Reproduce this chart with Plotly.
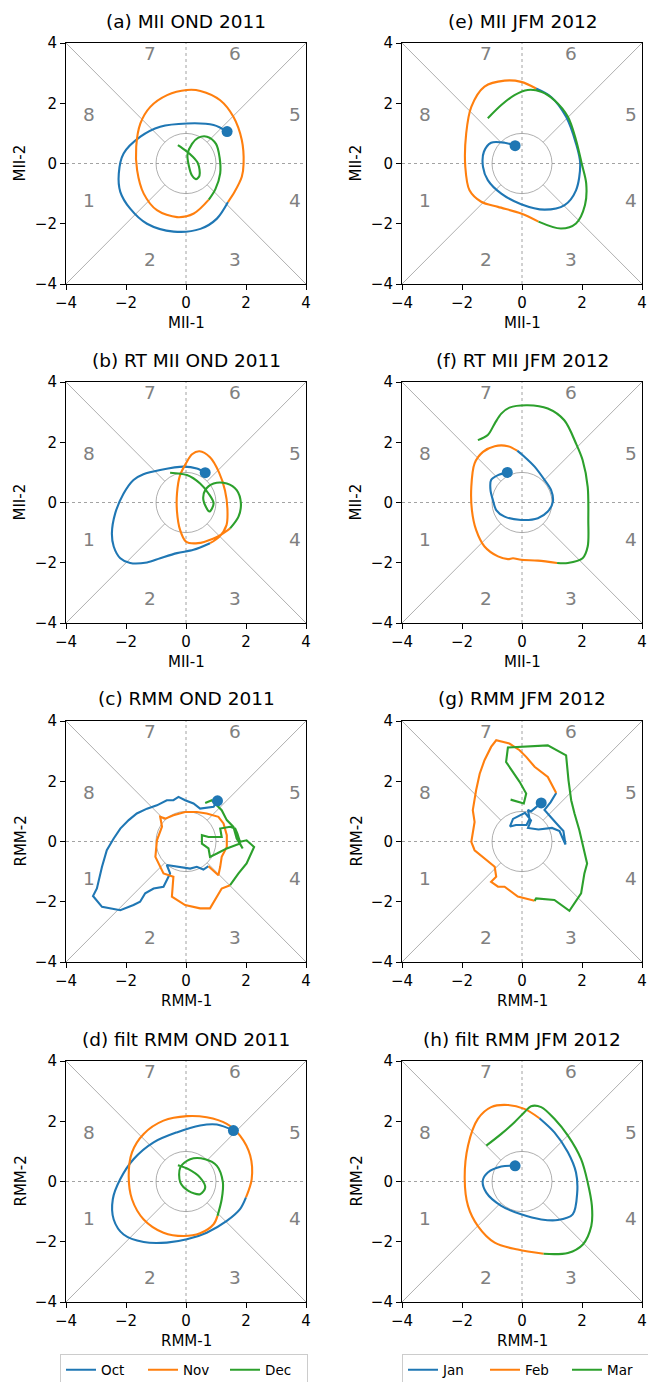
import plotly.graph_objects as go

W, H = 648, 1382
FONT = "DejaVu Sans"
BLUE, ORANGE, GREEN = "#1f77b4", "#ff7f0e", "#2ca02c"

# ---- trajectories (component-1, component-2) per month ----
# (a) MII OND 2011
mii_ond_oct = [(1.37, 1.06), (0.92, 1.28), (0.03, 1.33), (-0.86, 1.22), (-1.52, 0.89), (-2.08, 0.33),
               (-2.24, -0.33), (-2.19, -0.94), (-1.86, -1.5), (-1.3, -2.0), (-0.41, -2.26), (0.48, -2.17),
               (1.03, -1.83), (1.4, -1.28)]
mii_ond_nov = [(1.4, -1.28), (1.62, -0.94), (1.86, -0.44), (1.92, 0.0), (1.86, 0.78), (1.58, 1.55),
               (1.14, 2.1), (0.48, 2.41), (0.03, 2.44), (-0.63, 2.27), (-1.19, 1.88), (-1.52, 1.33),
               (-1.66, 0.55), (-1.63, -0.22), (-1.41, -1.0), (-0.97, -1.55), (-0.3, -1.78), (0.26, -1.66),
               (0.76, -1.2)]
mii_ond_dec = [(0.76, -1.2), (0.98, -0.85), (1.14, -0.33), (1.12, 0.2), (1.0, 0.65), (0.7, 0.89),
               (0.4, 0.85), (0.2, 0.65), (0.05, 0.3), (0.1, -0.1), (0.2, -0.4), (0.33, -0.52),
               (0.45, -0.4), (0.4, 0.0), (0.2, 0.25), (0.0, 0.42), (-0.27, 0.61)]

# (e) MII JFM 2012
mii_jfm_jan = [(-0.23, 0.59), (-0.58, 0.69), (-1.03, 0.69), (-1.27, 0.39), (-1.3, -0.11), (-1.14, -0.55),
               (-0.69, -1.0), (-0.03, -1.35), (0.75, -1.53), (1.42, -1.38), (1.8, -0.89), (1.94, 0.0),
               (1.8, 0.66), (1.47, 1.55), (0.97, 2.21), (0.47, 2.49)]
mii_jfm_feb = [(0.47, 2.49), (-0.03, 2.71), (-0.58, 2.75), (-1.25, 2.55), (-1.69, 1.88), (-1.86, 1.0),
               (-1.89, -0.11), (-1.75, -0.89), (-1.36, -1.27), (-0.8, -1.44), (-0.03, -1.66), (0.55, -1.93)]
mii_jfm_mar = [(0.55, -1.93), (1.3, -2.16), (1.8, -1.99), (2.1, -1.38), (2.14, -0.66), (1.99, 0.0),
               (1.8, 0.78), (1.53, 1.55), (1.08, 2.1), (0.64, 2.38), (0.19, 2.44), (-0.25, 2.27),
               (-0.69, 1.94), (-1.14, 1.5)]

# (b) RT MII OND 2011
rtmii_ond_oct = [(0.64, 0.99), (0.36, 1.13), (-0.08, 1.19), (-0.86, 1.08), (-1.42, 0.94), (-1.75, 0.75),
                 (-2.08, 0.3), (-2.36, -0.36), (-2.47, -1.02), (-2.41, -1.46), (-2.19, -1.85), (-1.86, -2.01),
                 (-1.3, -1.99), (-0.86, -1.85), (-0.3, -1.68), (0.25, -1.57), (0.8, -1.35)]
rtmii_ond_nov = [(0.8, -1.35), (1.1, -1.15), (1.35, -0.75), (1.38, -0.2), (1.3, 0.4), (1.1, 1.0),
                 (0.8, 1.5), (0.45, 1.7), (0.2, 1.6), (0.0, 1.3), (-0.2, 0.9), (-0.3, 0.3), (-0.3, -0.3),
                 (-0.2, -0.9), (0.0, -1.3), (0.4, -1.35), (0.9, -1.2), (1.2, -1.05), (1.47, -0.86)]
rtmii_ond_dec = [(1.47, -0.86), (1.75, -0.47), (1.83, -0.03), (1.69, 0.41), (1.36, 0.63), (0.92, 0.63),
                 (0.64, 0.41), (0.58, 0.08), (0.78, -0.3), (0.92, -0.03), (0.75, 0.3), (0.47, 0.63),
                 (0.03, 0.91), (-0.53, 0.99)]

# (f) RT MII JFM 2012
rtmii_jfm_jan = [(-0.49, 1.0), (-0.8, 0.91), (-1.03, 0.75), (-1.05, 0.41), (-0.97, 0.08), (-0.86, -0.25),
                 (-0.58, -0.47), (-0.03, -0.58), (0.53, -0.52), (0.86, -0.3), (1.03, 0.03), (0.97, 0.41),
                 (0.75, 0.75), (0.42, 1.19), (0.08, 1.52), (-0.16, 1.72)]
rtmii_jfm_feb = [(-0.16, 1.72), (-0.47, 1.87), (-0.91, 1.87), (-1.3, 1.68), (-1.58, 1.3), (-1.69, 0.52),
                 (-1.67, -0.25), (-1.53, -0.91), (-1.25, -1.46), (-0.8, -1.79), (-0.47, -1.88),
                 (-0.3, -1.85), (-0.03, -1.9), (0.53, -1.93), (1.17, -2.01)]
rtmii_jfm_mar = [(1.17, -2.01), (1.53, -2.01), (2.02, -1.85), (2.19, -1.46), (2.21, -0.58), (2.19, 0.52),
                 (2.02, 1.41), (1.8, 1.96), (1.41, 2.73), (0.86, 3.12), (0.19, 3.23), (-0.42, 3.15),
                 (-0.69, 2.95), (-0.91, 2.62), (-1.14, 2.24), (-1.47, 2.07)]

# (c) RMM OND 2011
rmm_ond_oct = [(1.05, 1.35), (0.92, 1.15), (0.47, 1.09), (0.25, 1.26), (-0.03, 1.37), (-0.25, 1.48),
               (-0.42, 1.37), (-0.64, 1.37), (-0.97, 1.2), (-1.3, 1.09), (-1.64, 0.93), (-1.91, 0.71),
               (-2.19, 0.43), (-2.41, 0.1), (-2.64, -0.29), (-2.8, -0.84), (-2.97, -1.56), (-3.1, -1.81),
               (-2.8, -2.17), (-2.19, -2.28), (-1.75, -2.11), (-1.53, -2.0), (-1.36, -1.72), (-1.08, -1.56),
               (-0.75, -1.5), (-0.64, -1.28), (-0.53, -1.06), (-0.64, -0.78), (-0.19, -0.84), (0.14, -0.9),
               (0.36, -0.84), (0.58, -0.93), (0.75, -0.82)]
rmm_ond_nov = [(0.75, -0.82), (1.08, -1.12), (1.14, -0.84), (1.19, -0.51), (1.36, -0.18), (1.36, 0.21),
               (1.25, 0.6), (1.08, 0.82), (0.69, 0.93), (0.36, 0.98), (-0.03, 0.98), (-0.42, 0.87),
               (-0.69, 0.76), (-0.86, 0.82), (-0.8, 0.49), (-0.97, 0.04), (-1.02, -0.51), (-0.91, -0.73),
               (-0.75, -1.06), (-0.42, -1.17), (-0.47, -1.83), (-0.03, -2.11), (0.47, -2.22), (0.8, -2.22),
               (1.03, -1.83), (1.19, -1.56), (1.47, -1.45)]
rmm_ond_dec = [(1.47, -1.45), (1.75, -1.06), (2.02, -0.73), (2.27, -0.18), (2.02, 0.04), (1.8, -0.01),
               (1.71, 0.27), (1.64, 0.43), (1.47, 0.49), (1.14, 0.43), (1.19, 0.15), (0.75, 0.15),
               (0.53, 0.21), (0.53, -0.07), (0.75, -0.23), (0.8, -0.51), (1.03, -0.4), (1.36, -0.23),
               (1.8, -0.07), (1.89, -0.23), (1.69, 0.1), (1.58, 0.49), (1.36, 0.71), (1.19, 1.04),
               (0.97, 1.26), (0.86, 1.37), (0.64, 1.28)]

# (g) RMM JFM 2012
rmm_jfm_jan = [(0.64, 1.28), (0.3, 1.0), (0.2, 1.05), (0.25, 0.75), (0.15, 0.55), (-0.2, 0.55),
               (-0.4, 0.5), (-0.3, 0.75), (0.1, 0.95), (0.3, 0.7), (0.2, 0.45), (0.55, 0.4), (1.0, 0.45),
               (1.25, 0.35), (1.45, -0.1), (1.38, 0.35), (1.15, 0.6), (0.9, 0.9), (0.75, 1.05),
               (0.95, 1.3), (1.14, 1.61)]
rmm_jfm_feb = [(1.14, 1.61), (0.86, 2.14), (0.42, 2.48), (0.14, 2.81), (-0.08, 3.03), (-0.42, 3.25),
               (-0.86, 3.36), (-1.03, 3.14), (-1.25, 2.7), (-1.41, 2.25), (-1.53, 1.7), (-1.64, 1.04),
               (-1.58, 0.65), (-1.69, -0.01), (-1.58, -0.29), (-1.25, -0.56), (-0.91, -0.84),
               (-0.86, -1.17), (-1.03, -1.34), (-0.8, -1.5), (-0.58, -1.5), (-0.14, -1.83), (0.42, -1.97)]
rmm_jfm_mar = [(0.42, -1.97), (0.47, -1.89), (1.08, -1.94), (1.58, -2.3), (1.97, -1.72), (2.08, -1.06),
               (2.17, -0.73), (2.02, -0.07), (1.91, 0.38), (1.75, 0.93), (1.64, 1.37), (1.55, 2.03),
               (1.47, 2.86), (0.86, 3.19), (0.19, 3.16), (-0.47, 3.12), (-0.53, 2.64), (-0.3, 2.31),
               (-0.08, 1.98), (0.14, 1.59), (0.06, 1.26), (-0.38, 1.39)]

# (d) filtered RMM OND 2011
frmm_ond_oct = [(1.58, 1.69), (1.03, 1.89), (0.47, 1.86), (-0.31, 1.63), (-1.08, 1.3), (-1.75, 0.74),
                (-2.19, 0.08), (-2.44, -0.59), (-2.41, -1.26), (-2.08, -1.76), (-1.41, -2.01), (-0.64, -2.03),
                (0.03, -1.92), (0.69, -1.7), (1.36, -1.31), (1.8, -0.92), (2.0, -0.53)]
frmm_ond_nov = [(2.0, -0.53), (2.19, 0.08), (2.14, 0.86), (1.8, 1.52), (1.36, 1.91), (0.69, 2.13),
                (0.03, 2.17), (-0.75, 2.02), (-1.41, 1.58), (-1.8, 0.97), (-1.91, 0.19), (-1.8, -0.59),
                (-1.41, -1.26), (-0.75, -1.7), (-0.08, -1.81), (0.47, -1.72), (0.92, -1.42), (1.05, -1.14)]
frmm_ond_dec = [(1.05, -1.14), (1.19, -0.59), (1.23, -0.03), (1.03, 0.52), (0.64, 0.74), (0.14, 0.74),
                (-0.19, 0.47), (-0.19, -0.03), (0.08, -0.31), (0.47, -0.42), (0.64, -0.2), (0.47, 0.13),
                (0.08, 0.41), (-0.27, 0.54)]

# (h) filtered RMM JFM 2012
frmm_jfm_jan = [(-0.23, 0.52), (-0.69, 0.5), (-1.14, 0.3), (-1.31, 0.02), (-1.19, -0.37), (-0.69, -0.81),
                (-0.03, -1.09), (0.64, -1.26), (1.19, -1.28), (1.69, -1.09), (1.84, -0.37), (1.8, 0.3),
                (1.53, 0.97), (1.08, 1.63), (0.58, 2.1)]
frmm_jfm_feb = [(0.58, 2.1), (0.08, 2.41), (-0.47, 2.54), (-1.03, 2.47), (-1.47, 2.08), (-1.8, 1.19),
                (-1.91, 0.08), (-1.8, -0.81), (-1.47, -1.48), (-0.91, -2.03), (-0.14, -2.26), (0.72, -2.4)]
frmm_jfm_mar = [(0.72, -2.4), (1.53, -2.37), (2.03, -2.09), (2.31, -1.48), (2.33, -0.81), (2.19, -0.03),
                (1.97, 0.74), (1.53, 1.52), (1.08, 2.08), (0.64, 2.47), (0.3, 2.5), (0.08, 2.3),
                (-0.25, 1.97), (-0.69, 1.58), (-1.19, 1.19)]

months_ond = ["Oct", "Nov", "Dec"]
months_jfm = ["Jan", "Feb", "Mar"]
ticks = [-4, -2, 0, 2, 4]
phase_labels = ["1", "2", "3", "4", "5", "6", "7", "8"]
phase_x = [-3.22, -1.2, 1.63, 3.63, 3.63, 1.63, -1.2, -3.22]
phase_y = [-1.22, -3.2, -3.2, -1.22, 1.63, 3.65, 3.65, 1.63]

# panel: (title, x label, y label, [segments], smooth, column, row)
panels = [
    ("(a) MII OND 2011", "MII-1", "MII-2", [mii_ond_oct, mii_ond_nov, mii_ond_dec], True, 0, 0),
    ("(e) MII JFM 2012", "MII-1", "MII-2", [mii_jfm_jan, mii_jfm_feb, mii_jfm_mar], True, 1, 0),
    ("(b) RT MII OND 2011", "MII-1", "MII-2", [rtmii_ond_oct, rtmii_ond_nov, rtmii_ond_dec], True, 0, 1),
    ("(f) RT MII JFM 2012", "MII-1", "MII-2", [rtmii_jfm_jan, rtmii_jfm_feb, rtmii_jfm_mar], True, 1, 1),
    ("(c) RMM OND 2011", "RMM-1", "RMM-2", [rmm_ond_oct, rmm_ond_nov, rmm_ond_dec], False, 0, 2),
    ("(g) RMM JFM 2012", "RMM-1", "RMM-2", [rmm_jfm_jan, rmm_jfm_feb, rmm_jfm_mar], False, 1, 2),
    ("(d) filt RMM OND 2011", "RMM-1", "RMM-2", [frmm_ond_oct, frmm_ond_nov, frmm_ond_dec], True, 0, 3),
    ("(h) filt RMM JFM 2012", "RMM-1", "RMM-2", [frmm_jfm_jan, frmm_jfm_feb, frmm_jfm_mar], True, 1, 3),
]

# layout geometry in pixels
col_left = [66, 402]
ax_w = 240
row_top = [43, 382, 721, 1061]
ax_h = 241


def px(x):
    return x / W


def py(y):
    return 1 - y / H


fig = go.Figure()
shapes, annotations = [], []
colors = [BLUE, ORANGE, GREEN]
GRAY = "#8c8c8c"
r = 0.7071


def paper_text(text, x, y, size, angle=0):
    return dict(text=text, x=px(x), y=py(y), xref="paper", yref="paper", xanchor="center",
                yanchor="middle", showarrow=False, textangle=angle,
                font=dict(family=FONT, size=size, color="black"))


for i, (title, xl, yl, segs, smooth, col, row) in enumerate(panels, start=1):
    xa = "x" if i == 1 else f"x{i}"
    ya = "y" if i == 1 else f"y{i}"
    left, top = col_left[col], row_top[row]
    ax_kw = dict(range=[-4, 4], tickvals=ticks, ticktext=[str(t).replace("-", "\u2212") for t in ticks],
                 ticks="outside", ticklen=5, tickwidth=1, tickcolor="black", showline=True, mirror=True,
                 linecolor="black", linewidth=1.1, showgrid=False, zeroline=False,
                 tickfont=dict(family=FONT, size=15, color="black"), fixedrange=True)
    fig.layout[f"xaxis{'' if i == 1 else i}"] = dict(domain=[px(left), px(left + ax_w)], anchor=ya, **ax_kw)
    fig.layout[f"yaxis{'' if i == 1 else i}"] = dict(domain=[py(top + ax_h), py(top)], anchor=xa, **ax_kw)

    # phase-space guide lines
    ref = dict(xref=xa, yref=ya, layer="below")
    shapes.append(dict(type="line", x0=-4, y0=0, x1=4, y1=0, line=dict(color=GRAY, width=0.8, dash="dot"), **ref))
    shapes.append(dict(type="line", x0=0, y0=-4, x1=0, y1=4, line=dict(color=GRAY, width=0.8, dash="dot"), **ref))
    for sx, sy in [(1, 1), (-1, 1), (-1, -1), (1, -1)]:
        shapes.append(dict(type="line", x0=sx * r, y0=sy * r, x1=sx * 4, y1=sy * 4,
                           line=dict(color=GRAY, width=0.7), **ref))
    shapes.append(dict(type="circle", x0=-1, y0=-1, x1=1, y1=1, line=dict(color=GRAY, width=0.7), **ref))

    for lab, tx, ty in zip(phase_labels, phase_x, phase_y):
        annotations.append(dict(text=lab, x=tx, y=ty, xref=xa, yref=ya, xanchor="center", yanchor="middle",
                                showarrow=False, font=dict(family=FONT, size=18.5, color="#808080")))

    # titles and axis labels
    cx = left + ax_w / 2
    annotations.append(paper_text(title, cx, top - 22, 18.5))
    annotations.append(paper_text(xl, cx, top + ax_h + 39, 15))
    annotations.append(paper_text(yl, left - 46, top + ax_h / 2, 15, angle=-90))

    names = months_ond if col == 0 else months_jfm
    legend_name = "legend" if col == 0 else "legend2"
    for seg, c, nm in zip(segs, colors, names):
        fig.add_trace(go.Scatter(
            x=[p[0] for p in seg], y=[p[1] for p in seg], mode="lines", name=nm,
            line=dict(color=c, width=2.1, shape="spline" if smooth else "linear", smoothing=0.9),
            xaxis=xa, yaxis=ya, legend=legend_name, showlegend=(row == 3), hoverinfo="skip"))
    start = segs[0][0]
    fig.add_trace(go.Scatter(x=[start[0]], y=[start[1]], mode="markers",
                             marker=dict(color=BLUE, size=11), xaxis=xa, yaxis=ya,
                             showlegend=False, hoverinfo="skip"))

legend_common = dict(orientation="h", yanchor="middle", xanchor="left", y=py(1370),
                     bordercolor="#cccccc", borderwidth=1, bgcolor="white",
                     font=dict(family=FONT, size=13.5, color="black"),
                     entrywidth=37, entrywidthmode="pixels", itemwidth=30, tracegroupgap=0)

fig.update_layout(
    width=W, height=H, margin=dict(l=0, r=0, t=0, b=0, autoexpand=False),
    paper_bgcolor="white", plot_bgcolor="white",
    shapes=shapes, annotations=annotations,
    legend=dict(x=px(60), **legend_common),
    legend2=dict(x=px(402), **legend_common),
    font=dict(family=FONT),
)

fig.write_html("out.html")
